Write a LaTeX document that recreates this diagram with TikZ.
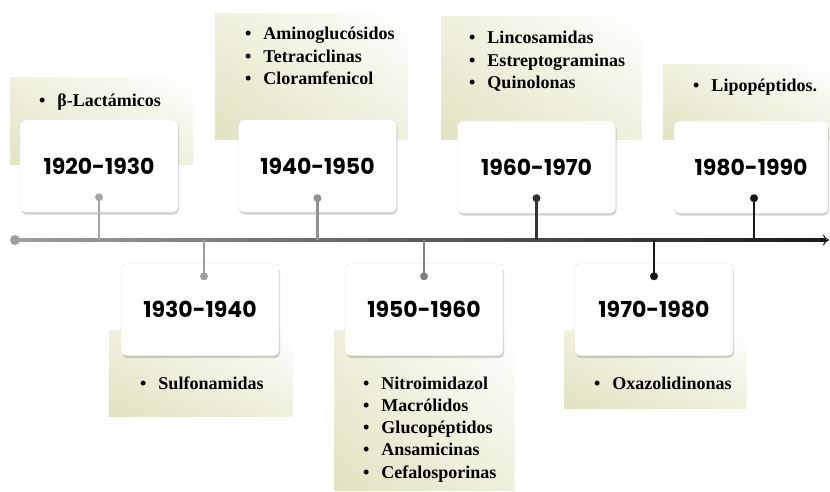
\documentclass[tikz,border=0pt]{standalone}
\usepackage{fontspec}
\setmainfont{Liberation Serif}
\newfontfamily\yearfont{Poppins}
\usetikzlibrary{shadows,shadings,arrows.meta}

\definecolor{paneolive}{RGB}{226,226,194}
\definecolor{panelight}{RGB}{240,240,222}

\newcommand{\druglist}[1]{\begin{tabular}[t]{@{}l@{}}#1\end{tabular}}
\newcommand{\itm}{\textbullet\hspace{12pt}}

\tikzset{
  pane/.style={upper left=panelight, upper right=white, lower left=paneolive, lower right=panelight},
  decade/.style={draw=black!10, fill=white, rounded corners=5pt, minimum width=158pt, minimum height=92pt,
    inner sep=0pt, font=\yearfont\bfseries\fontsize{22}{24}\selectfont,
    drop shadow={shadow xshift=1pt, shadow yshift=-2.5pt, opacity=0.35}},
  drugs/.style={anchor=base west, inner sep=0pt, font=\bfseries\fontsize{18}{22.3}\selectfont},
  pin/.style={line width=2.5pt},
}

\begin{document}
\begin{tikzpicture}[x=1pt, y=-1pt]
    \useasboundingbox (0,0) rectangle (830,492);

    % shaded panes behind the boxes
    \shade[pane] (10,78) rectangle (193,165);
    \shade[pane] (215,14) rectangle (408,140);
    \shade[pane] (441,17) rectangle (642,140);
    \shade[pane] (663,65) rectangle (830,140);
    \shade[pane] (109,330) rectangle (293,416);
    \shade[pane] (334,330) rectangle (515,490);
    \shade[pane] (564,330) rectangle (747,408);

    % drug families
    \node [drugs] (d1920) at (39,106.5) {\druglist{\itm β-Lactámicos}};
    \node [drugs] (d1940) at (245,40) {\druglist{\itm Aminoglucósidos\\ \itm Tetraciclinas\\ \itm Cloramfenicol}};
    \node [drugs] (d1960) at (469,44) {\druglist{\itm Lincosamidas\\ \itm Estreptograminas\\ \itm Quinolonas}};
    \node [drugs] (d1980) at (693,92) {\druglist{\itm Lipopéptidos.}};
    \node [drugs] (d1930) at (140,389) {\druglist{\itm Sulfonamidas}};
    \node [drugs] (d1950) at (363,389) {\druglist{\itm Nitroimidazol\\ \itm Macrólidos\\ \itm Glucopéptidos\\ \itm Ansamicinas\\ \itm Cefalosporinas}};
    \node [drugs] (d1970) at (594,389) {\druglist{\itm Oxazolidinonas}};

    % decade boxes
    \node [decade] (y1920) at (99,166) {1920-1930};
    \node [decade] (y1940) at (317.5,166) {1940-1950};
    \node [decade] (y1960) at (536.5,167) {1960-1970};
    \node [decade, minimum width=154pt] (y1980) at (751,167) {1980-1990};
    \node [decade] (y1930) at (200,309.5) {1930-1940};
    \node [decade] (y1950) at (424,309.5) {1950-1960};
    \node [decade] (y1970) at (654,309.5) {1970-1980};

    % time axis
    \coordinate (axisL) at (15,240);
    \coordinate (axisR) at (829,240);
    \shade[left color=black!38, right color=black!90] ([yshift=1.5pt]axisL) rectangle ([yshift=-1.5pt, xshift=-3pt]axisR);
    \draw [black!90, line width=1pt, -{To[length=6pt, width=11pt]}] ([xshift=-6pt]axisR) -- (axisR);
    \fill [black!38] (axisL) circle (5pt);

    % pins
    \coordinate (p1920) at ([yshift=15pt]y1920.south);
    \coordinate (p1940) at ([yshift=14pt]y1940.south);
    \coordinate (p1960) at ([yshift=15pt]y1960.south);
    \coordinate (p1980) at ([xshift=3pt, yshift=15pt]y1980.south);
    \coordinate (p1930) at ([xshift=4pt, yshift=-13pt]y1930.north);
    \coordinate (p1950) at ([yshift=-13pt]y1950.north);
    \coordinate (p1970) at ([yshift=-13pt]y1970.north);

    \draw [pin, black!35] (p1920) -- (p1920 |- axisL);
    \draw [pin, black!38] (p1930) -- (p1930 |- axisL);
    \draw [pin, black!43] (p1940) -- (p1940 |- axisL);
    \draw [pin, black!50] (p1950) -- (p1950 |- axisL);
    \draw [pin, black!80] (p1960) -- (p1960 |- axisL);
    \draw [pin, black!90] (p1970) -- (p1970 |- axisL);
    \draw [pin, black!90] (p1980) -- (p1980 |- axisL);

    \fill [black!35] (p1920) circle (4pt);
    \fill [black!38] (p1930) circle (4pt);
    \fill [black!43] (p1940) circle (4pt);
    \fill [black!50] (p1950) circle (4pt);
    \fill [black!80] (p1960) circle (4pt);
    \fill [black!90] (p1970) circle (4pt);
    \fill [black!90] (p1980) circle (4pt);
\end{tikzpicture}
\end{document}
